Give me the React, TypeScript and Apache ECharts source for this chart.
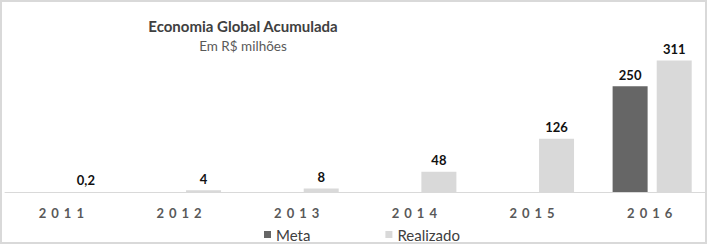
import React, { useEffect, useRef } from "react";
import * as echarts from "echarts";

const categories = ["2011", "2012", "2013", "2014", "2015", "2016"];
const metaValues: (number | null)[] = [null, null, null, null, null, 250];
const realizadoValues: number[] = [0.2, 4, 8, 48, 126, 311];
const realizadoLabels = ["0,2", "4", "8", "48", "126", "311"];

export default function App() {
  const ref = useRef<HTMLDivElement>(null);
  useEffect(() => {
    if (!ref.current) return;
    const chart = echarts.init(ref.current, undefined, { renderer: "svg" });
    const spaceLabels = () => {
      if (!ref.current) return;
      ref.current.querySelectorAll("text").forEach((t) => {
        if (categories.includes((t.textContent || "").trim())) {
          (t as SVGTextElement).style.letterSpacing = "5px";
        }
      });
    };
    chart.on("finished", spaceLabels);
    chart.setOption({
      animation: false,
      backgroundColor: "#ffffff",
      title: {
        text: "Economia Global Acumulada",
        subtext: "Em R$ milhões",
        left: 241,
        textAlign: "center",
        top: 16,
        itemGap: 6,
        padding: 0,
        textStyle: { fontFamily: "Lato", fontWeight: "bold", fontSize: 15, color: "#404040" },
        subtextStyle: { fontFamily: "Lato", fontSize: 13.5, color: "#595959" },
      },
      legend: {
        top: 225,
        left: 262,
        padding: 0,
        itemWidth: 7,
        itemHeight: 7,
        itemGap: 75,
        icon: "rect",
        textStyle: { fontFamily: "Lato", fontSize: 15, color: "#404040" },
        data: ["Meta", "Realizado"],
      },
      grid: { left: 3, right: 0, top: 42, bottom: 50 },
      xAxis: {
        type: "category",
        data: categories,
        axisLine: { lineStyle: { color: "#d9d9d9", width: 1 } },
        axisTick: { show: false },
        axisLabel: {
          margin: 14,
          fontFamily: "Lato",
          fontWeight: "bold",
          fontSize: 13,
          color: "#595959",
        },
      },
      yAxis: { type: "value", min: 0, max: 350, show: false, splitLine: { show: false } },
      series: [
        {
          name: "Meta",
          type: "bar",
          data: metaValues,
          barWidth: 35,
          barGap: "26%",
          itemStyle: { color: "#666666" },
          label: {
            show: true,
            position: "top",
            distance: 5,
            fontFamily: "Lato",
            fontWeight: "bold",
            fontSize: 13,
            color: "#111111",
          },
        },
        {
          name: "Realizado",
          type: "bar",
          data: realizadoValues,
          barWidth: 35,
          barGap: "26%",
          itemStyle: { color: "#d9d9d9" },
          label: {
            show: true,
            position: "top",
            distance: 5,
            fontFamily: "Lato",
            fontWeight: "bold",
            fontSize: 13,
            color: "#111111",
            formatter: (p: any) => realizadoLabels[p.dataIndex],
          },
        },
      ],
    });
    spaceLabels();
    return () => chart.dispose();
  }, []);
  return (
    <div
      style={{
        position: "absolute",
        left: 0,
        top: 0,
        width: 707,
        height: 244,
        boxSizing: "border-box",
        border: "2px solid #d9d9d9",
        background: "#fff",
        overflow: "hidden",
      }}
    >
      <div ref={ref} style={{ width: 709, height: 240 }} />
    </div>
  );
}
